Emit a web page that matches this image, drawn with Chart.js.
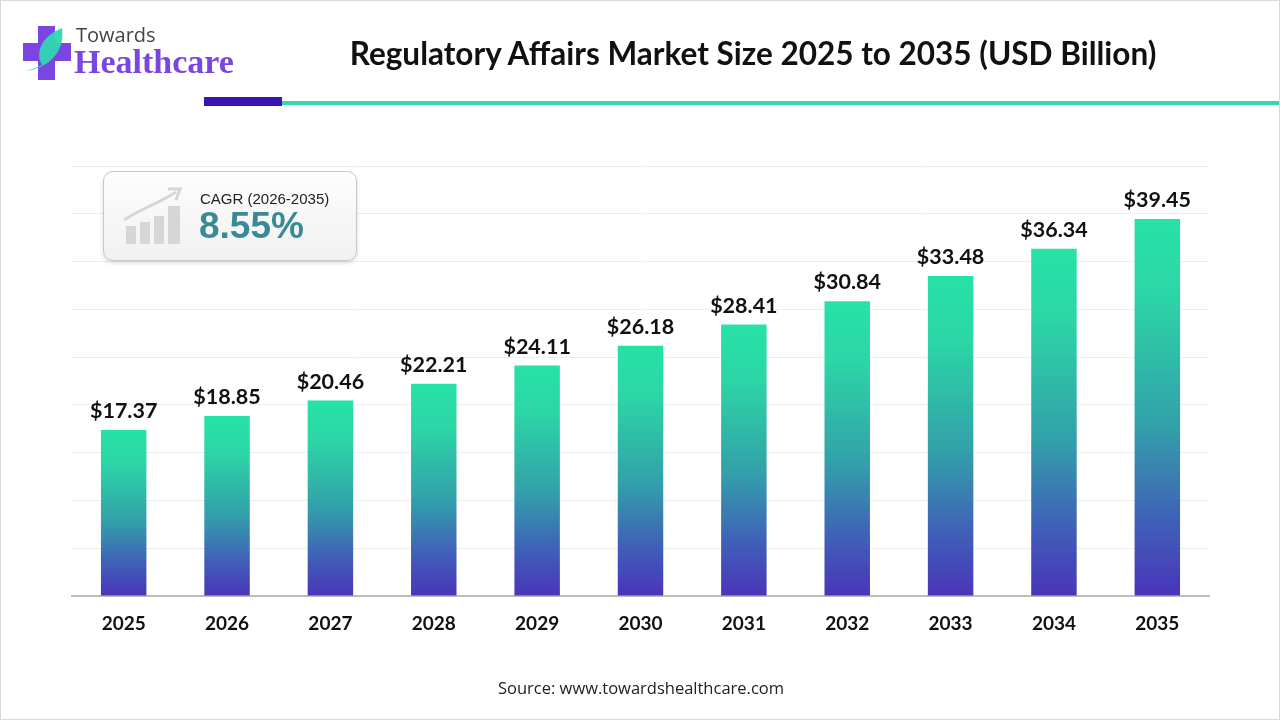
<!DOCTYPE html>
<html>
<head>
<meta charset="utf-8">
<script src="https://cdn.jsdelivr.net/npm/chart.js@4.4.1/dist/chart.umd.min.js"></script>
<style>
  html, body { margin: 0; padding: 0; background: #fff; }
  #page { position: relative; width: 1280px; height: 720px; overflow: hidden; box-sizing: border-box; border: 1px solid #d9d9d9; }
  #graph { position: absolute; left: 0; top: 0; }
  .title { position: absolute; left: 0; width: 1504px; top: 33px; text-align: center; font: bold 31.5px Lato, sans-serif; color: #111; }
  .bar-purple { position: absolute; left: 203px; top: 96px; width: 78px; height: 9px; background: #3a14b0; }
  .bar-teal { position: absolute; left: 281px; top: 100px; width: 1000px; height: 4px; background: #3bd4b0; }
  .logo-t1 { position: absolute; left: 75px; top: 20px; font: 20px "Open Sans", sans-serif; color: #444; }
  .logo-t2 { position: absolute; left: 73px; top: 42px; font: bold 34px "Liberation Serif", serif; color: #7a45e0; }
  .cagr { position: absolute; left: 102px; top: 170px; width: 252px; height: 88px; border: 1.5px solid #c8c8c8; border-radius: 10px;
          background: linear-gradient(#fdfdfd, #f1f1f1); box-shadow: 0 2px 4px rgba(0,0,0,0.15); }
  .cagr-t1 { position: absolute; left: 96px; top: 18px; font: 15px "Liberation Sans", Arial, sans-serif; color: #222; }
  .cagr-t2 { position: absolute; left: 95px; top: 33px; font: bold 37px "Liberation Sans", Arial, sans-serif; color: #3a8a96; }
  .source { position: absolute; left: 0; width: 1280px; top: 675px; text-align: center; font: 16.5px "Open Sans", sans-serif; color: #222; }
</style>
</head>
<body>
<div id="page">
  <canvas id="graph" width="1280" height="720"></canvas>

  <!-- ロゴ -->
  <svg style="position:absolute;left:21px;top:24px" width="52" height="56" viewBox="0 0 52 56">
    <path d="M16 1 h17 v17 h16 v18 h-16 v19 h-17 v-19 h-15 v-18 h15 z" fill="#7a45e0"/>
    <path d="M4 46 C22 44 44 30 40 3 C22 10 12 26 20 40 C14 43 8 45 4 46 z" fill="#2fd6b0" opacity="0.95"/>
  </svg>
  <div class="logo-t1">Towards</div>
  <div class="logo-t2">Healthcare</div>

  <div class="title">Regulatory Affairs Market Size 2025 to 2035 (USD Billion)</div>
  <div class="bar-purple"></div>
  <div class="bar-teal"></div>

  <!-- CAGRボックス -->
  <div class="cagr">
    <svg style="position:absolute;left:20px;top:14px" width="64" height="60" viewBox="0 0 64 60">
      <rect x="2" y="40" width="10" height="18" fill="#d6d6d6"/>
      <rect x="16" y="36" width="10" height="22" fill="#d6d6d6"/>
      <rect x="30" y="30" width="10" height="28" fill="#d6d6d6"/>
      <rect x="44" y="20" width="12" height="38" fill="#d6d6d6"/>
      <path d="M0 34 C18 22 34 18 52 6" stroke="#d6d6d6" stroke-width="3" fill="none"/>
      <path d="M44 3 L56 3 L52 14" stroke="#d6d6d6" stroke-width="3" fill="none"/>
    </svg>
    <div class="cagr-t1">CAGR (2026-2035)</div>
    <div class="cagr-t2">8.55%</div>
  </div>

  <div class="source">Source: www.towardshealthcare.com</div>
</div>

<script>
// データ
const years = ['2025', '2026', '2027', '2028', '2029', '2030', '2031', '2032', '2033', '2034', '2035'];
const marketSize = [17.37, 18.85, 20.46, 22.21, 24.11, 26.18, 28.41, 30.84, 33.48, 36.34, 39.45];
const valueLabels = ['$17.37', '$18.85', '$20.46', '$22.21', '$24.11', '$26.18', '$28.41', '$30.84', '$33.48', '$36.34', '$39.45'];
const yMax = 45;
const yStep = 5;

// バーごとのグラデーション
function barGradient(context) {
    const chart = context.chart;
    const yScale = chart.scales.y;
    if (!chart.chartArea || !yScale) {
        return '#2fb0a8';
    }
    const top = yScale.getPixelForValue(context.raw);
    const bottom = yScale.getPixelForValue(0);
    const g = chart.ctx.createLinearGradient(0, top, 0, bottom);
    g.addColorStop(0, '#26e2a6');
    g.addColorStop(0.2, '#2cd6a6');
    g.addColorStop(0.55, '#32a0aa');
    g.addColorStop(0.8, '#4060b8');
    g.addColorStop(1, '#4a34ba');
    return g;
}

// バー上の値ラベル
const valueLabelPlugin = {
    id: 'valueLabel',
    afterDatasetsDraw(chart) {
        const ctx = chart.ctx;
        const meta = chart.getDatasetMeta(0);
        ctx.save();
        ctx.font = 'bold 21.5px Lato, sans-serif';
        ctx.fillStyle = '#111';
        ctx.textAlign = 'center';
        ctx.textBaseline = 'bottom';
        meta.data.forEach((bar, i) => {
            ctx.fillText(valueLabels[i], bar.x, bar.y - 8);
        });
        ctx.restore();
    }
};

new Chart(document.getElementById('graph'), {
    type: 'bar',
    data: {
        labels: years,
        datasets: [{
            data: marketSize,
            backgroundColor: barGradient,
            borderWidth: 0,
            barPercentage: 0.44,
            categoryPercentage: 1.0
        }]
    },
    options: {
        responsive: false,
        animation: false,
        devicePixelRatio: 1,
        layout: { padding: { left: 71, right: 72, top: 165, bottom: 0 } },
        plugins: {
            legend: { display: false },
            tooltip: { enabled: false }
        },
        scales: {
            x: {
                grid: { display: false },
                border: { color: '#bdbdbd', width: 2 },
                ticks: { color: '#111', font: { family: 'Lato', weight: 'bold', size: 19 }, padding: 8 },
                afterFit(scale) { scale.height = 125; }
            },
            y: {
                min: 0,
                max: yMax,
                ticks: { display: false, stepSize: yStep },
                grid: { color: '#eeeeee', lineWidth: 1, drawTicks: false },
                border: { display: false },
                afterFit(scale) { scale.width = 0; }
            }
        }
    },
    plugins: [valueLabelPlugin]
});
</script>
</body>
</html>
